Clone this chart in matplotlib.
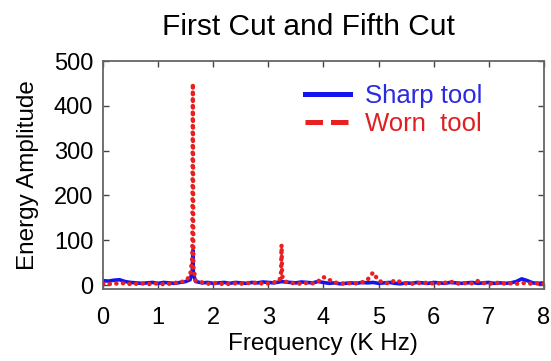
import matplotlib.pyplot as plt
from matplotlib.lines import Line2D

plt.rcParams['font.family'] = ['Liberation Sans', 'DejaVu Sans']

# Frequency samples (kHz)
freq = [0.0, 0.1, 0.2, 0.3, 0.4, 0.5, 0.6, 0.7, 0.8, 0.9, 1.0, 1.1, 1.2, 1.3,
        1.4, 1.5, 1.58, 1.62, 1.63, 1.64, 1.68, 1.8, 1.9, 2.0, 2.1, 2.2, 2.3,
        2.4, 2.5, 2.6, 2.7, 2.8, 2.9, 3.0, 3.1, 3.2, 3.23, 3.24, 3.25, 3.3,
        3.4, 3.5, 3.6, 3.7, 3.8, 3.9, 4.0, 4.1, 4.2, 4.3, 4.4, 4.5, 4.6,
        4.7, 4.8, 4.9, 5.0, 5.1, 5.2, 5.3, 5.4, 5.5, 5.6, 5.7, 5.8, 5.9,
        6.0, 6.1, 6.2, 6.3, 6.4, 6.5, 6.6, 6.7, 6.8, 6.9, 7.0, 7.1, 7.2,
        7.3, 7.4, 7.5, 7.6, 7.7, 7.8, 7.9, 8.0]

# Sharp tool energy amplitude
sharp = [10, 9, 11, 12, 8, 6, 5, 4, 5, 6, 4, 6, 5, 4,
         6, 8, 12, 30, 78, 25, 8, 5, 6, 4, 5, 6, 4,
         6, 5, 4, 6, 5, 7, 6, 5, 7, 8, 9, 8, 7,
         6, 5, 7, 6, 5, 8, 6, 4, 5, 3, 4, 5, 4,
         6, 5, 6, 4, 5, 6, 4, 3, 5, 4, 6, 5, 4,
         6, 5, 4, 6, 5, 4, 5, 6, 4, 5, 6, 4, 5,
         4, 5, 8, 14, 10, 5, 4, 5]

# Worn tool energy amplitude
worn = [3, 2, 4, 3, 5, 2, 3, 4, 2, 3, 4, 2, 3, 5,
        6, 10, 20, 60, 450, 40, 10, 6, 3, 5, 4, 2, 3,
        4, 3, 5, 4, 6, 3, 4, 6, 10, 25, 90, 20, 8,
        5, 4, 3, 5, 4, 8, 18, 12, 6, 4, 3, 5, 4,
        6, 12, 28, 10, 5, 4, 11, 7, 4, 3, 5, 4, 6,
        3, 4, 5, 8, 4, 3, 5, 4, 9, 5, 3, 4, 6,
        3, 4, 3, 5, 4, 3, 4, 3]

xticks = [0, 1, 2, 3, 4, 5, 6, 7, 8]
yticks = [0, 100, 200, 300, 400, 500]

fig = plt.figure(figsize=(5.51, 3.61), dpi=100)
ax = fig.add_axes([0.187, 0.199, 0.800, 0.632])

ax.plot(freq, sharp, color='#1414f0', linewidth=2.6, zorder=2)
ax.plot(freq, worn, color='#e82020', linewidth=3.2, linestyle=(0, (0.05, 1.45)),
        dash_capstyle='round', zorder=3)

ax.set_xlim(0, 8)
ax.set_ylim(-9, 500)
ax.set_xticks(xticks)
ax.set_yticks(yticks)
ax.tick_params(direction='in', top=True, right=True, labelsize=17, length=4,
               width=1, color='#444444')
ax.tick_params(axis='y', pad=7)
ax.tick_params(axis='x', pad=13)
for sp in ax.spines.values():
    sp.set_color('#666666')
    sp.set_linewidth(1.3)

ax.set_xlabel('Frequency (K Hz)', fontsize=17.5, labelpad=3)
ax.set_ylabel('Energy Amplitude', fontsize=17.5, labelpad=11)
ax.set_title('First Cut and Fifth Cut', fontsize=21.5, pad=19, x=0.466)

handles = [Line2D([], [], color='#1414f0', linewidth=3.6),
           Line2D([], [], color='#e82020', linewidth=3.6, linestyle=(0, (3.5, 1.6)))]
leg = ax.legend(handles, ['Sharp tool', 'Worn  tool'], loc='upper left',
                bbox_to_anchor=(0.458, 0.90), frameon=False, fontsize=18.5,
                handlelength=1.75, handletextpad=0.6, labelspacing=0.15,
                borderpad=0, borderaxespad=0)
leg.get_texts()[0].set_color('#2a2ae0')
leg.get_texts()[1].set_color('#e02020')

fig.savefig('out.png', dpi=100)
